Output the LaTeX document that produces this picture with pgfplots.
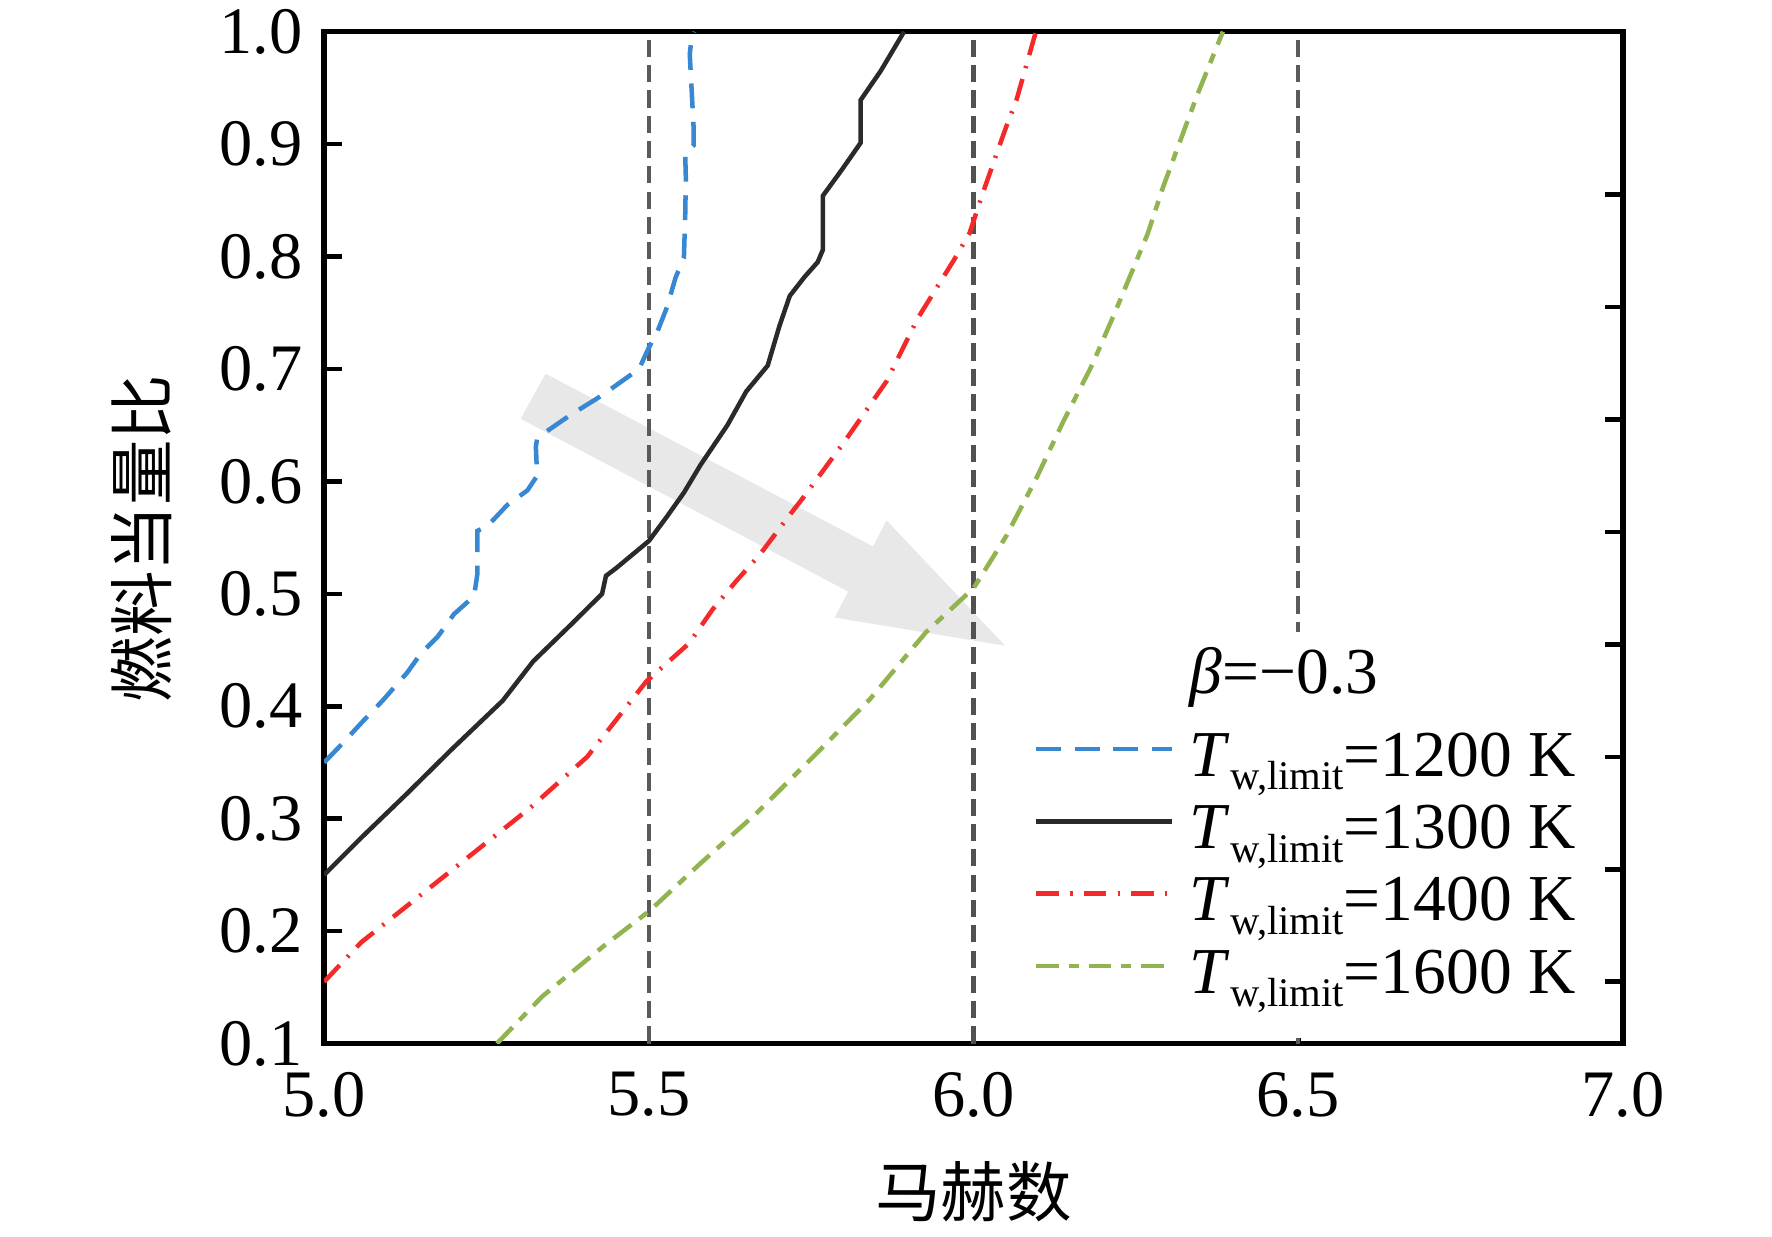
\documentclass[border=0pt]{standalone}
\usepackage{fontspec}
\setmainfont{Liberation Serif}
\newfontfamily\cjk{Noto Sans CJK SC}
\usepackage{pgfplots}
\pgfplotsset{compat=1.18}
\definecolor{cblue}{HTML}{3787D2}
\definecolor{cred}{HTML}{F42A2A}
\definecolor{cgreen}{HTML}{91B450}
\definecolor{cblack}{HTML}{2A2A2A}
\definecolor{cgray}{HTML}{5A5A5A}
\newcommand{\Tw}{\textit{T}\raisebox{-3pt}{\fontsize{9}{9}\selectfont w,limit}}
\begin{document}
\begin{tikzpicture}
\useasboundingbox (-71.75pt,-42.75pt) rectangle (320.5pt,231pt);
\begin{axis}[
  at={(0,0)}, anchor=south west,
  scale only axis, width=287.5pt, height=224pt,
  xmin=5, xmax=7, ymin=0.1, ymax=1.0,
  xtick={5,5.5,6,6.5,7}, xticklabels={5.0,5.5,6.0,6.5,7.0},
  ytick={0.1,0.2,0.3,0.4,0.5,0.6,0.7,0.8,0.9,1.0},
  yticklabels={0.1,0.2,0.3,0.4,0.5,0.6,0.7,0.8,0.9,1.0},
  tick align=inside, major tick length=4pt,
  xtick pos=bottom, ytick pos=left,
  axis line style={line width=1.2pt},
  tick style={line width=1pt, black},
  ticklabel style={font=\fontsize{14.7}{17}\selectfont},
  xticklabel style={yshift=-2.8pt},
  yticklabel style={xshift=-1.2pt},
  xlabel={\cjk 马赫数}, ylabel={\cjk 燃料当量比},
  label style={font=\fontsize{14.5}{17}\selectfont},
  xlabel style={at={(axis description cs:0.5,-0.146)}, anchor=center},
  ylabel style={at={(axis description cs:-0.141,0.499)}, anchor=center},
  legend cell align=left,
  legend style={at={(0.539,0.408)}, anchor=north west, draw=none, fill=white,
    inner xsep=2pt, inner ysep=5pt, row sep=0pt,
    font=\fontsize{14.5}{17}\selectfont,
    nodes={text height=11pt, text depth=5pt, inner ysep=0pt, inner xsep=3.5pt}},
  legend image code/.code={\draw[#1] (0pt,3pt) -- (30pt,3pt);},
]
\fill[black!9] (axis cs:5.341,0.6958) -- (axis cs:5.8452,0.5422) -- (axis cs:5.8661,0.5653)
  -- (axis cs:6.0487,0.4538) -- (axis cs:5.7861,0.4789) -- (axis cs:5.8070,0.5020)
  -- (axis cs:5.3026,0.6557) -- cycle;
\addplot[forget plot, cgray, line width=0.9pt, dash pattern=on 3.8pt off 1.8pt] coordinates {(5.5,0.1) (5.5,1.0)};
\addplot[forget plot, cgray!90!black, line width=1.2pt, dash pattern=on 3.8pt off 1.8pt] coordinates {(6.0,0.1) (6.0,1.0)};
\addplot[forget plot, cgray, line width=0.9pt, dash pattern=on 3.8pt off 1.8pt] coordinates {(6.5,0.1) (6.5,1.0)};

\addlegendimage{empty legend}
\addlegendentry{\raisebox{2.4pt}{\textit{β}=−0.3}}

\addplot[cblue, line width=1pt, dash pattern=on 5.5pt off 3pt] coordinates {
(5.000,0.350) (5.030,0.368) (5.057,0.385) (5.090,0.405) (5.128,0.430) (5.149,0.447)
(5.175,0.462) (5.200,0.482) (5.231,0.498) (5.236,0.518) (5.236,0.556) (5.251,0.560)
(5.282,0.579) (5.313,0.592) (5.328,0.605) (5.326,0.631) (5.328,0.638) (5.344,0.645)
(5.379,0.659) (5.421,0.674) (5.446,0.684) (5.485,0.700) (5.500,0.719) (5.513,0.733)
(5.528,0.755) (5.541,0.781) (5.554,0.799) (5.556,0.836) (5.557,0.869) (5.556,0.891)
(5.569,0.899) (5.569,0.914) (5.567,0.936) (5.563,0.980) (5.566,0.995) (5.570,1.000)};
\addlegendentry{\Tw=1200 K}

\addplot[cblack, line width=1pt] coordinates {
(5.000,0.250) (5.057,0.283) (5.127,0.322) (5.197,0.362) (5.275,0.405) (5.322,0.440)
(5.379,0.472) (5.428,0.500) (5.434,0.516) (5.450,0.523) (5.500,0.547) (5.527,0.568)
(5.554,0.590) (5.580,0.615) (5.621,0.650) (5.650,0.680) (5.683,0.703) (5.701,0.738)
(5.717,0.765) (5.740,0.782) (5.760,0.795) (5.768,0.806) (5.768,0.854) (5.797,0.877)
(5.826,0.901) (5.826,0.939) (5.857,0.965) (5.893,1.000)};
\addlegendentry{\Tw=1300 K}

\addplot[cred, line width=1pt, dash pattern=on 5pt off 2.5pt on 0.5pt off 2.5pt] coordinates {
(5.000,0.155) (5.057,0.190) (5.144,0.230) (5.231,0.270) (5.318,0.310) (5.405,0.355)
(5.496,0.422) (5.562,0.456) (5.598,0.486) (5.634,0.511) (5.671,0.535) (5.718,0.571)
(5.737,0.585) (5.802,0.636) (5.866,0.689) (5.914,0.745) (5.971,0.798) (5.994,0.821)
(6.014,0.856) (6.050,0.915) (6.066,0.939) (6.096,1.000)};
\addlegendentry{\Tw=1400 K}

\addplot[cgreen, line width=1pt, dash pattern=on 5pt off 2.2pt on 2.2pt off 2.2pt] coordinates {
(5.266,0.100) (5.336,0.142) (5.431,0.187) (5.501,0.218) (5.579,0.260) (5.666,0.305)
(5.753,0.355) (5.840,0.406) (5.927,0.466) (6.000,0.505) (6.050,0.551) (6.096,0.602)
(6.138,0.653) (6.183,0.704) (6.219,0.752) (6.268,0.820) (6.292,0.862) (6.344,0.943)
(6.384,1.000)};
\addlegendentry{\Tw=1600 K}
\end{axis}
\begin{axis}[
  at={(0,0)}, anchor=south west,
  scale only axis, width=287.5pt, height=224pt,
  xmin=5, xmax=7, ymin=0.1, ymax=1.0,
  hide x axis, axis y line*=right, y axis line style={draw=none},
  ytick={0.155,0.255,0.355,0.455,0.555,0.655,0.755,0.855}, yticklabels={},
  tick align=inside, major tick length=4pt, ytick pos=right,
  tick style={line width=1pt, black},
]
\end{axis}
\end{tikzpicture}
\end{document}
